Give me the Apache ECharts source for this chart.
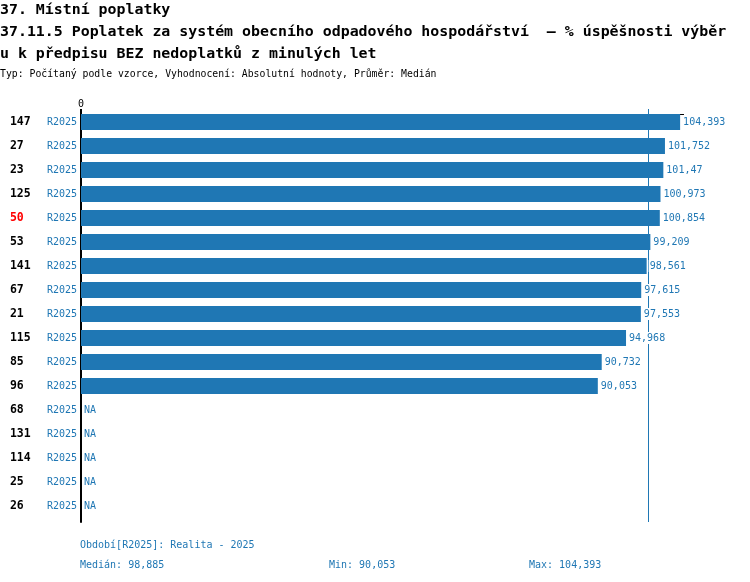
<!DOCTYPE html>
<html>
<head>
<meta charset="utf-8">
<title>37.11.5 Poplatek za systém obecního odpadového hospodářství</title>
<script src="https://cdn.jsdelivr.net/npm/echarts@6/dist/echarts.min.js"></script>
<style>
    html, body { margin: 0; padding: 0; background: #fff; }
    #main { width: 750px; height: 582px; }
</style>
</head>
<body>
<div id="main"></div>
<script>
    // data
    var ids = ['147', '27', '23', '125', '50', '53', '141', '67', '21', '115', '85', '96', '68', '131', '114', '25', '26'];
    var values = [104.393, 101.752, 101.47, 100.973, 100.854, 99.209, 98.561, 97.615, 97.553, 94.968, 90.732, 90.053, null, null, null, null, null];
    var highlightId = '50';
    var period = 'R2025';
    var periodName = 'Realita - 2025';
    var axisTicks = [0];

    var blue = '#1f77b4';
    var mono = 'DejaVu Sans Mono';

    function fmt(v) {
        return String(v).replace('.', ',');
    }

    var known = values.filter(function (v) { return v !== null; }).sort(function (a, b) { return a - b; });
    var mid = Math.floor(known.length / 2);
    var median = known.length % 2 ? known[mid] : (known[mid - 1] + known[mid]) / 2;
    median = Math.round(median * 1000) / 1000;
    var minV = known[0];
    var maxV = known[known.length - 1];

    var barData = values.map(function (v) {
        return v === null ? {value: 0, na: true} : {value: v};
    });

    var myChart = echarts.init(document.getElementById('main'));

    var option = {
        animation: false,
        title: [{
            text: '37. Místní poplatky\n37.11.5 Poplatek za systém obecního odpadového hospodářství  – % úspěšnosti výběr\nu k předpisu BEZ nedoplatků z minulých let',
            left: 0, top: -1, padding: 0,
            textStyle: {fontFamily: mono, fontSize: 14.9, fontWeight: 'bold', color: '#000', lineHeight: 22}
        }, {
            text: 'Typ: Počítaný podle vzorce, Vyhodnocení: Absolutní hodnoty, Průměr: Medián',
            left: 0, top: 67, padding: 0,
            textStyle: {fontFamily: mono, fontSize: 9.8, fontWeight: 'normal', color: '#000', lineHeight: 14}
        }, {
            text: 'Období[' + period + ']: ' + periodName,
            left: 80, top: 538, padding: 0,
            textStyle: {fontFamily: mono, fontSize: 10, fontWeight: 'normal', color: blue, lineHeight: 14}
        }, {
            text: 'Medián: ' + fmt(median),
            left: 80, top: 558, padding: 0,
            textStyle: {fontFamily: mono, fontSize: 10, fontWeight: 'normal', color: blue, lineHeight: 14}
        }, {
            text: 'Min: ' + fmt(minV),
            left: 329, top: 558, padding: 0,
            textStyle: {fontFamily: mono, fontSize: 10, fontWeight: 'normal', color: blue, lineHeight: 14}
        }, {
            text: 'Max: ' + fmt(maxV),
            left: 529, top: 558, padding: 0,
            textStyle: {fontFamily: mono, fontSize: 10, fontWeight: 'normal', color: blue, lineHeight: 14}
        }],
        grid: {left: 81, right: 66.4, top: 114, height: 408, containLabel: false},
        xAxis: [{
            type: 'value',
            position: 'top',
            min: 0,
            max: 105,
            splitLine: {show: false},
            axisLine: {show: true, lineStyle: {color: '#000', width: 1}},
            axisTick: {show: true, customValues: axisTicks, length: 5, lineStyle: {color: '#000', width: 2}},
            axisLabel: {show: true, customValues: axisTicks, margin: 5, fontFamily: mono, fontSize: 10, color: '#000'}
        }, {
            type: 'value',
            position: 'top',
            min: 0,
            max: 105,
            splitLine: {show: false},
            axisLine: {show: false},
            axisTick: {show: true, customValues: [median], length: 5, lineStyle: {color: blue, width: 1}},
            axisLabel: {show: false}
        }],
        yAxis: {
            type: 'category',
            inverse: true,
            data: ids,
            axisLine: {show: true, lineStyle: {color: '#000', width: 2}},
            axisTick: {show: false},
            axisLabel: {
                margin: 4,
                padding: [0, 0, 8, 0],
                formatter: function (id) {
                    return '{' + (id === highlightId ? 'idRed' : 'id') + '|' + id + '}{r|' + period + '}';
                },
                rich: {
                    id: {fontFamily: mono, fontSize: 11.5, fontWeight: 'bold', color: '#000', width: 37, align: 'left'},
                    idRed: {fontFamily: mono, fontSize: 11.5, fontWeight: 'bold', color: '#ff0000', width: 37, align: 'left'},
                    r: {fontFamily: mono, fontSize: 10, color: blue}
                }
            }
        },
        series: [{
            type: 'bar',
            data: barData,
            barWidth: 16,
            barGap: '0%',
            itemStyle: {color: blue},
            label: {
                show: true,
                position: 'right',
                distance: 2,
                padding: [1, 1, 1, 1],
                backgroundColor: '#fff',
                fontFamily: mono,
                fontSize: 10,
                color: blue,
                formatter: function (p) {
                    return p.data.na ? 'NA' : fmt(p.value);
                }
            },
            markLine: {
                silent: true,
                symbol: 'none',
                label: {show: false},
                emphasis: {disabled: true},
                lineStyle: {color: blue, width: 1, type: 'solid', opacity: 1},
                data: [{xAxis: median}],
                z: 1
            },
            z: 2
        }, {
            // empty spacer so the bars sit at the top of each row
            type: 'bar',
            data: ids.map(function () { return '-'; }),
            barWidth: 8,
            barGap: '0%',
            silent: true
        }]
    };
    myChart.setOption(option);
</script>
</body>
</html>
